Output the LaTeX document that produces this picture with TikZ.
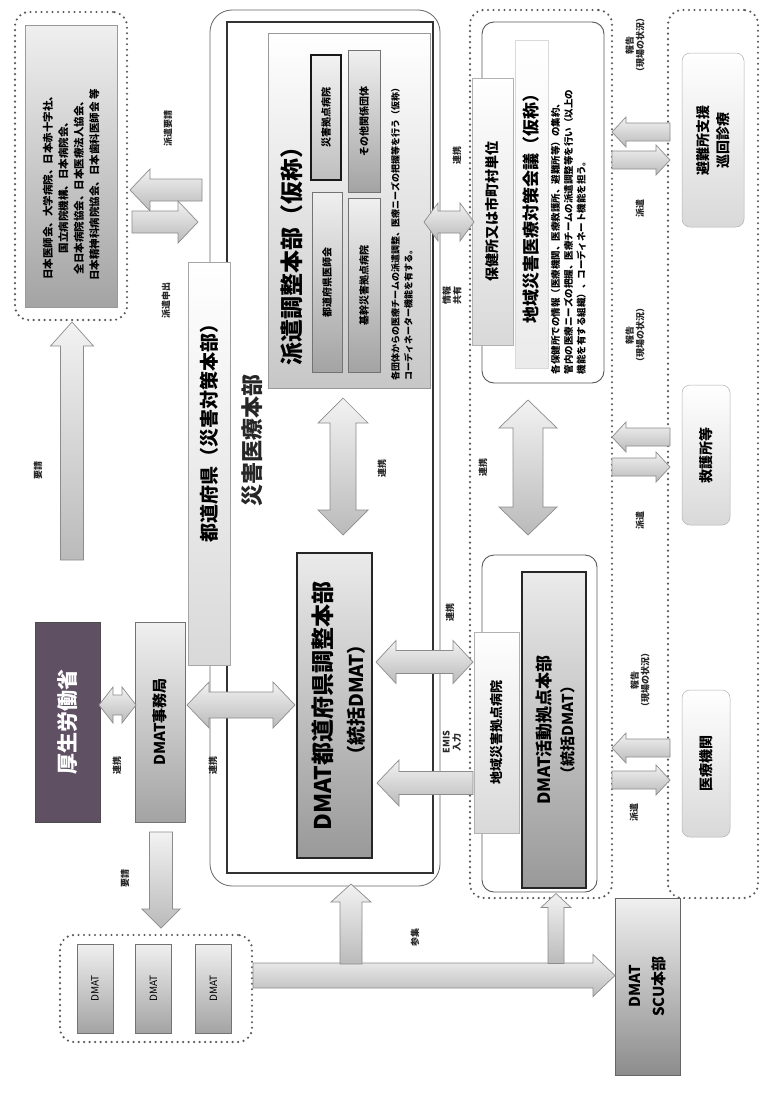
\documentclass[tikz,border=0pt]{standalone}
\usepackage{fontspec}
\setmainfont{Noto Sans CJK JP}
\newcommand\fs[2]{\fontsize{#1}{#2}\selectfont}
\definecolor{kdark}{RGB}{95,80,100}
% single fat arrow: name, cx, cy, angle, length, head height, shaft height, head length
\newcommand\sarr[8]{\begin{scope}[shift={(#2,#3)},rotate=#4]
 \path[fatstyle] ({-(#5)/2},{-(#7)/2}) -- ({(#5)/2-(#8)},{-(#7)/2}) -- ({(#5)/2-(#8)},{-(#6)/2}) -- ({(#5)/2},0)
   -- ({(#5)/2-(#8)},{(#6)/2}) -- ({(#5)/2-(#8)},{(#7)/2}) -- ({-(#5)/2},{(#7)/2}) -- cycle;
 \coordinate (#1) at (0,0);\end{scope}}
% double fat arrow
\newcommand\darr[8]{\begin{scope}[shift={(#2,#3)},rotate=#4]
 \path[fatstyle] ({-(#5)/2},0) -- ({-(#5)/2+(#8)},{-(#6)/2}) -- ({-(#5)/2+(#8)},{-(#7)/2}) -- ({(#5)/2-(#8)},{-(#7)/2})
   -- ({(#5)/2-(#8)},{-(#6)/2}) -- ({(#5)/2},0) -- ({(#5)/2-(#8)},{(#6)/2}) -- ({(#5)/2-(#8)},{(#7)/2})
   -- ({-(#5)/2+(#8)},{(#7)/2}) -- ({-(#5)/2+(#8)},{(#6)/2}) -- cycle;
 \coordinate (#1) at (0,0);\end{scope}}
\begin{document}
\begin{tikzpicture}[x=1pt,y=-1pt,
  every node/.style={inner sep=0pt, outer sep=0pt},
  rot/.style={rotate=90},
  wh/.style 2 args={minimum width=#1, minimum height=#2},
  graybox/.style={draw=black!55, line width=0.6pt, top color=black!6, bottom color=black!36},
  lightbox/.style={draw=black!30, line width=0.5pt, top color=white, bottom color=black!15},
  edgebox/.style={draw=black!85, line width=1.4pt, top color=black!8, bottom color=black!40},
  dotbox/.style={draw=black!65, line width=2.4pt, dash pattern=on 0pt off 5.5pt, line cap=round, rounded corners=14pt},
  thinround/.style={draw=black!65, line width=0.9pt, rounded corners=12pt},
  fatstyle/.style={draw=black!45, line width=0.7pt, line join=miter, top color=black!5, bottom color=black!27},
  lbl/.style={rotate=90, font=\fs{9}{10.5}\bfseries, align=center, text=black!85},
]
\useasboundingbox (0,0) rectangle (762,1100);
\fill[white] (0,0) rectangle (762,1100);

% ---------------- left column ----------------
\node[dotbox, wh={112}{308}] (hospgrp) at (71,166) {};
\node[graybox, draw=black!40, wh={92}{282}] (hosp) at (71,166) {};
\node[rot, align=center, font=\fs{10.5}{15.5}\bfseries] (hosptxt) at (71,185)
  {日本医師会、大学病院、日本赤十字社、\\国立病院機構、日本病院会、\\全日本病院協会、日本医療法人協会、\\日本精神科病院協会、日本歯科医師会 等};

\node[rot, wh={200}{65}, draw=black!70, fill=kdark, text=white, font=\fs{21}{24}\bfseries] (mhlw) at (67.5,722) {厚生労働省};
\node[rot, graybox, wh={200}{50}, font=\fs{15}{18}\bfseries] (jim) at (160,722) {DMAT事務局};

\node[dotbox, wh={192}{107}] (dgrp) at (156,988.5) {};
\node[rot, graybox, wh={89}{36}, font=\fs{10}{12}] (d1) at (95,988.5) {DMAT};
\node[rot, graybox, wh={89}{36}, font=\fs{10}{12}] (d2) at (153.5,988.5) {DMAT};
\node[rot, graybox, wh={89}{36}, font=\fs{10}{12}] (d3) at (213.5,988.5) {DMAT};

% ---------------- prefecture container ----------------
\node[draw=black!60, line width=0.8pt, rounded corners=22pt, wh={230}{876}] (prefout) at (325,448) {};
\node[draw=black!80, line width=1.3pt, wh={206}{851}] (prefin) at (330,447.5) {};
\node[rot, lightbox, draw=black!35, wh={403}{42}] (prefbar) at (209,463.5) {};
\node[rot, font=\fs{19}{22}\bfseries] (prefbartxt) at (209,428) {都道府県（災害対策本部）};
\node[rot, font=\fs{22}{26}\bfseries, text=black!85] (saigai) at (252,440) {災害医療本部};

\node[rot, lightbox, draw=black!40, bottom color=black!22, wh={355}{162}] (haken) at (349,210.5) {};
\node[rot, font=\fs{23}{26}\bfseries] (hakentitle) at (292,250) {派遣調整本部（仮称）};
\node[rot, draw=black!90, line width=1.3pt, top color=black!5, bottom color=black!25, wh={125}{30}, font=\fs{10}{12}\bfseries] (hA) at (326,117.5) {災害拠点病院};
\node[rot, graybox, wh={180}{30}, font=\fs{10}{12}\bfseries] (hB) at (327,282) {都道府県医師会};
\node[rot, graybox, wh={142}{32}, font=\fs{10}{12}\bfseries] (hC) at (364,121) {その他関係団体};
\node[rot, graybox, wh={174}{32}, font=\fs{10}{12}\bfseries] (hD) at (364,285) {基幹災害拠点病院};
\node[rot, anchor=north west, align=left, font=\fs{9}{13}\bfseries] (hdesc) at (391,380)
  {各団体からの医療チームの派遣調整、医療ニーズの把握等を行う（仮称）\\コーディネーター機能を有する。};

\node[rot, edgebox, wh={305}{75}] (dpref) at (334.5,705.5) {};
\node[rot, font=\fs{23}{26}\bfseries] (dpref1) at (323,706) {DMAT都道府県調整本部};
\node[rot, font=\fs{19}{22}\bfseries] (dpref2) at (356,700) {（統括DMAT）};

% ---------------- middle dotted region ----------------
\node[dotbox, wh={142}{888}] (middot) at (541,454) {};
\node[thinround, wh={122}{361}] (hokenbox) at (543,202.5) {};
\node[rot, lightbox, wh={267}{41}, font=\fs{14}{16}\bfseries] (hokenbar) at (492.5,211.5) {保健所又は市町村単位};
\node[rot, lightbox, draw=black!15, bottom color=black!8, wh={328}{33}, font=\fs{17}{20}\bfseries] (kaigi) at (531.5,204) {地域災害医療対策会議（仮称）};
\node[rot, anchor=north west, align=left, font=\fs{9.5}{12.8}\bfseries] (kdesc) at (551,374)
  {各保健所での情報（医療機関、医療救護所、避難所等）の集約、\\管内の医療ニーズの把握、医療チームの派遣調整等を行い（以上の\\機能を有する組織）、コーディネート機能を担う。};

\node[thinround, wh={115}{337}] (lowbox) at (539.5,723.5) {};
\node[rot, lightbox, wh={201}{45}, font=\fs{13}{15}\bfseries] (chiiki) at (496.5,732.5) {地域災害拠点病院};
\node[rot, edgebox, wh={316}{64}] (kyoten) at (554,730) {};
\node[rot, font=\fs{17}{20}\bfseries] (kyoten1) at (544,730) {DMAT活動拠点本部};
\node[rot, font=\fs{15}{18}\bfseries] (kyoten2) at (568,730) {（統括DMAT）};

% ---------------- right dotted region ----------------
\node[dotbox, wh={90}{888}] (rightdot) at (713,454) {};
\node[rot, lightbox, rounded corners=8pt, wh={174}{62}, font=\fs{14}{20}\bfseries, align=center] (hinan) at (713,140) {避難所支援\\巡回診療};
\node[rot, lightbox, rounded corners=8pt, wh={140}{48}, font=\fs{14}{16}\bfseries] (kyugo) at (706,455) {救護所等};
\node[rot, lightbox, rounded corners=8pt, wh={147}{48}, font=\fs{14}{16}\bfseries] (iryo) at (706,763.5) {医療機関};

\node[rot, graybox, draw=black!60, bottom color=black!45, wh={177}{65}, font=\fs{15}{24}\bfseries, align=center] (scu) at (647.5,986.5) {DMAT\\SCU本部};

% ---------------- fat arrows ----------------
\sarr{aupreq}{72}{441}{90}{238}{43}{23}{24}
\sarr{ahy}{166}{190}{180}{72}{42}{22}{20}
\sarr{ahm}{165}{222}{0}{66}{42}{22}{20}
\darr{amj}{117.5}{705}{0}{37}{36}{20}{14}
\darr{ajp}{241}{705}{0}{108}{46}{26}{22}
\sarr{adown}{161}{880}{-90}{96}{38}{23}{19}
\darr{ahp}{343}{466.5}{90}{137}{50}{26}{25}
\darr{apc}{424.5}{662}{0}{97}{43}{23}{20}
\sarr{aemis}{425}{783}{180}{96}{46}{23}{22}
\darr{ahh}{449}{222}{0}{50}{38}{22}{14}
\darr{amid}{528}{467.5}{90}{135}{58}{30}{28}
\sarr{ar1}{641}{132}{180}{58}{30}{18}{14}
\sarr{as1}{641}{160}{0}{58}{30}{18}{14}
\sarr{ar2}{641}{437}{180}{58}{30}{18}{14}
\sarr{as2}{641}{467}{0}{58}{30}{18}{14}
\sarr{ar3}{641}{748}{180}{58}{30}{18}{14}
\sarr{as3}{641}{780}{0}{58}{30}{18}{14}
\sarr{asan}{434}{975.5}{0}{362}{42}{25}{22}
\sarr{asan1}{351}{924}{90}{80}{40}{22}{18}
\sarr{asan2}{556}{928.5}{90}{70}{30}{16}{14}

% ---------------- labels ----------------
\node[lbl] (l1) at (38,470) {要請};
\node[lbl] (l2) at (168,128) {派遣要請};
\node[lbl] (l3) at (166,300) {派遣申出};
\node[lbl] (l4) at (117,765) {連携};
\node[lbl] (l5) at (213,765) {連携};
\node[lbl] (l6) at (125,878) {要請};
\node[lbl] (l7) at (382,468) {連携};
\node[lbl] (l8) at (450,612) {連携};
\node[lbl] (l9) at (452,742) {EMIS\\入力};
\node[lbl] (l10) at (457,155) {連携};
\node[lbl] (l11) at (452,295) {情報\\共有};
\node[lbl] (l12) at (483,467) {連携};
\node[lbl] (l13) at (415,937) {参集};
\node[lbl] (l14) at (635,45) {報告\\（現場の状況）};
\node[lbl] (l15) at (635,335) {報告\\（現場の状況）};
\node[lbl] (l16) at (640,680) {報告\\（現場の状況）};
\node[lbl] (l17) at (640,208) {派遣};
\node[lbl] (l18) at (640,520) {派遣};
\node[lbl] (l19) at (634,812) {派遣};
\end{tikzpicture}
\end{document}
